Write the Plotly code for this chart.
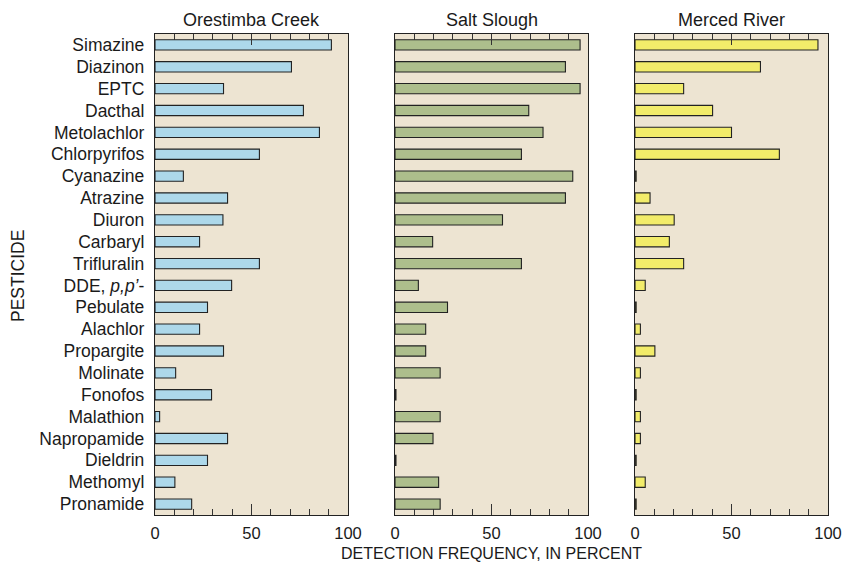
import plotly.graph_objects as go

pesticides = ["Simazine", "Diazinon", "EPTC", "Dacthal", "Metolachlor", "Chlorpyrifos",
              "Cyanazine", "Atrazine", "Diuron", "Carbaryl", "Trifluralin",
              "DDE, <i>p,p’</i>-", "Pebulate", "Alachlor", "Propargite", "Molinate",
              "Fonofos", "Malathion", "Napropamide", "Dieldrin", "Methomyl", "Pronamide"]

sites = ["Orestimba Creek", "Salt Slough", "Merced River"]

orestimba = [91.4, 70.7, 35.5, 76.9, 85.2, 54.1, 14.7, 37.6, 35.2, 23.1, 54.1,
             39.7, 27.2, 23.1, 35.5, 10.7, 29.3, 2.4, 37.6, 27.2, 10.3, 19.0]
salt_slough = [95.9, 88.3, 95.9, 69.3, 76.7, 65.5, 92.1, 88.3, 55.7, 19.5, 65.5,
               12.1, 27.2, 15.9, 15.9, 23.4, 0.5, 23.4, 19.7, 0.5, 22.6, 23.4]
merced = [94.8, 65.0, 25.2, 40.2, 50.0, 74.8, 0.6, 7.8, 20.3, 17.8, 25.2,
          5.3, 0.6, 2.8, 10.3, 2.8, 0.6, 2.8, 2.8, 0.6, 5.3, 0.6]

x_ticks = [0, 50, 100]

series = [orestimba, salt_slough, merced]
colors = ["#ADD8EA", "#ADBE8C", "#F2EC6A"]

W, H = 851, 567


def px(x):
    return x / W


def py(y):
    return 1 - y / H


panels_px = [(155, 348), (395, 588), (635, 828)]
y_top, y_bot = 34, 515
ydom = [py(y_bot), py(y_top)]

fig = go.Figure()
font_family = "Liberation Sans, Arial, sans-serif"
txt_color = "#1a1a1a"

for i, (vals, col) in enumerate(zip(series, colors)):
    xa = "x" if i == 0 else f"x{i+1}"
    ya = "y" if i == 0 else f"y{i+1}"
    fig.add_trace(go.Bar(
        x=vals, y=pesticides, orientation="h",
        marker=dict(color=col, line=dict(color="#222222", width=1.1)),
        width=0.47, xaxis=xa, yaxis=ya, showlegend=False, hoverinfo="x+y",
    ))
    xkey = "xaxis" if i == 0 else f"xaxis{i+1}"
    ykey = "yaxis" if i == 0 else f"yaxis{i+1}"
    x0, x1 = panels_px[i]
    fig.layout[xkey] = dict(
        domain=[px(x0), px(x1)], range=[0, 100], anchor=ya,
        tickmode="array", tickvals=x_ticks, ticktext=[str(t) for t in x_ticks],
        ticks="inside", ticklen=11, tickwidth=1, tickcolor="#333333",
        minor=dict(dtick=10, tick0=0, ticks="inside", ticklen=6, tickwidth=1, tickcolor="#333333"),
        showline=True, linecolor="#222222", linewidth=1.3, mirror="ticks",
        showgrid=False, zeroline=False, fixedrange=True,
        tickfont=dict(family=font_family, size=16.5, color=txt_color),
        ticklabelstandoff=3,
        automargin=False,
    )
    fig.layout[ykey] = dict(
        domain=ydom, anchor=xa,
        categoryorder="array", categoryarray=pesticides,
        range=[len(pesticides) - 0.5, -0.5],
        showline=True, linecolor="#222222", linewidth=1.3, mirror=True,
        ticks="", showgrid=False, zeroline=False, fixedrange=True,
        showticklabels=(i == 0), ticklabelstandoff=6,
        tickfont=dict(family=font_family, size=17.5, color=txt_color),
        automargin=False,
    )
    fig.add_annotation(
        text=sites[i], x=px((x0 + x1) / 2), y=py(20), xref="paper", yref="paper",
        showarrow=False, font=dict(family=font_family, size=18, color=txt_color),
        xanchor="center", yanchor="middle",
    )

fig.add_annotation(
    text="DETECTION FREQUENCY, IN PERCENT", x=px(491.5), y=py(553),
    xref="paper", yref="paper", showarrow=False,
    font=dict(family=font_family, size=16, color=txt_color),
    xanchor="center", yanchor="middle",
)
fig.add_annotation(
    text="PESTICIDE", x=px(18), y=py(276), xref="paper", yref="paper",
    showarrow=False, textangle=-90,
    font=dict(family=font_family, size=17.5, color=txt_color),
    xanchor="center", yanchor="middle",
)

bg = "#EDE4D2"

fig.update_layout(
    width=W, height=H, margin=dict(l=0, r=0, t=0, b=0),
    paper_bgcolor="white", plot_bgcolor=bg,
)

fig.write_html(
    "out.html",
    config={"displayModeBar": False},
    post_script="document.body.style.margin='0';document.body.style.overflow='hidden';",
)
